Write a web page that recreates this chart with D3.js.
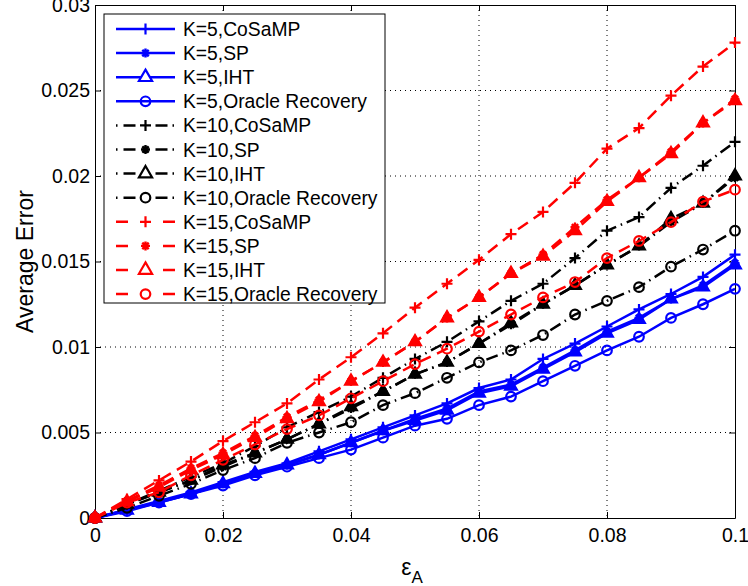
<!DOCTYPE html>
<html>
<head>
<meta charset="utf-8">
<script src="https://cdn.jsdelivr.net/npm/d3@7"></script>
<style>
  body { margin: 0; background: #fff; }
  svg { font-family: "Liberation Sans", Arial, sans-serif; }
</style>
</head>
<body>
<svg></svg>
<script>
// x values (epsilon_A)
let epsValues = [0, 0.005, 0.01, 0.015, 0.02, 0.025, 0.03, 0.035, 0.04, 0.045, 0.05,
                 0.055, 0.06, 0.065, 0.07, 0.075, 0.08, 0.085, 0.09, 0.095, 0.1];

let k5CoSaMP  = [0, 0.0005, 0.0010, 0.0015, 0.0021, 0.0027, 0.0032, 0.0039, 0.0046, 0.0053, 0.0060, 0.0067, 0.0076, 0.0081, 0.0093, 0.0102, 0.0112, 0.0122, 0.0131, 0.0141, 0.0154];
let k5SP      = [0, 0.00047, 0.00095, 0.0014, 0.0020, 0.0026, 0.0031, 0.0037, 0.0044, 0.0051, 0.0058, 0.0064, 0.0074, 0.0078, 0.0088, 0.0098, 0.0109, 0.0117, 0.0128, 0.0136, 0.0149];
let k5IHT     = [0, 0.00045, 0.0009, 0.0014, 0.0020, 0.0026, 0.0031, 0.0037, 0.0044, 0.0051, 0.0057, 0.0063, 0.0073, 0.0077, 0.0087, 0.0097, 0.0108, 0.0116, 0.0128, 0.0135, 0.0148];
let k5Oracle  = [0, 0.0004, 0.0009, 0.0014, 0.0019, 0.0025, 0.0030, 0.0035, 0.0040, 0.0047, 0.0054, 0.0058, 0.0066, 0.0071, 0.0080, 0.0089, 0.0098, 0.0106, 0.0117, 0.0125, 0.0134];

let k10CoSaMP = [0, 0.0008, 0.0016, 0.0024, 0.0032, 0.0042, 0.0053, 0.0062, 0.0071, 0.0082, 0.0093, 0.0103, 0.0115, 0.0127, 0.0137, 0.0152, 0.0168, 0.0176, 0.0193, 0.0206, 0.0220];
let k10SP     = [0, 0.0008, 0.0015, 0.0022, 0.0030, 0.0038, 0.0046, 0.0055, 0.0064, 0.0074, 0.0084, 0.0091, 0.0102, 0.0113, 0.0125, 0.0136, 0.0148, 0.0159, 0.0173, 0.0184, 0.0199];
let k10IHT    = [0, 0.0008, 0.0015, 0.0022, 0.0031, 0.0038, 0.0046, 0.0055, 0.0065, 0.0074, 0.0084, 0.0091, 0.0102, 0.0114, 0.0125, 0.0136, 0.0148, 0.0159, 0.0175, 0.0184, 0.0200];
let k10Oracle = [0, 0.0006, 0.0013, 0.0020, 0.0028, 0.0035, 0.0044, 0.0050, 0.0056, 0.0066, 0.0073, 0.0082, 0.0091, 0.0098, 0.0107, 0.0119, 0.0127, 0.0135, 0.0147, 0.0157, 0.0168];

let k15CoSaMP = [0, 0.0011, 0.0022, 0.0033, 0.0045, 0.0056, 0.0067, 0.0081, 0.0094, 0.0108, 0.0123, 0.0137, 0.0151, 0.0166, 0.0179, 0.0196, 0.0216, 0.0228, 0.0247, 0.0264, 0.0278];
let k15SP     = [0, 0.0010, 0.0019, 0.0029, 0.0038, 0.0048, 0.0059, 0.0069, 0.0080, 0.0091, 0.0103, 0.0117, 0.0129, 0.0143, 0.0154, 0.0170, 0.0186, 0.0199, 0.0214, 0.0231, 0.0245];
let k15IHT    = [0, 0.00095, 0.0018, 0.0028, 0.0037, 0.0047, 0.0058, 0.0068, 0.0080, 0.0091, 0.0103, 0.0117, 0.0129, 0.0143, 0.0153, 0.0168, 0.0185, 0.0199, 0.0213, 0.0231, 0.0244];
let k15Oracle = [0, 0.0009, 0.0015, 0.0025, 0.0034, 0.0043, 0.0052, 0.0060, 0.0070, 0.0080, 0.0090, 0.0099, 0.0109, 0.0119, 0.0129, 0.0138, 0.0152, 0.0162, 0.0173, 0.0185, 0.0192];

let seriesNames = ["K=5,CoSaMP", "K=5,SP", "K=5,IHT", "K=5,Oracle Recovery",
                   "K=10,CoSaMP", "K=10,SP", "K=10,IHT", "K=10,Oracle Recovery",
                   "K=15,CoSaMP", "K=15,SP", "K=15,IHT", "K=15,Oracle Recovery"];
let seriesValues = [k5CoSaMP, k5SP, k5IHT, k5Oracle,
                    k10CoSaMP, k10SP, k10IHT, k10Oracle,
                    k15CoSaMP, k15SP, k15IHT, k15Oracle];

let xTicks = [0, 0.02, 0.04, 0.06, 0.08, 0.1];
let yTicks = [0, 0.005, 0.01, 0.015, 0.02, 0.025, 0.03];

let width = 748;
let height = 586;
let plotLeft = 95, plotRight = 735, plotTop = 5, plotBottom = 518;

let colors = ["#0000ff", "#000000", "#ff0000"];   // K=5, K=10, K=15
let dashes = [null, "12,5,1.5,5", "12,7"];
let legendDashes = [null, "1.5,6,12,20,12,5,1.5", "12,35,12"];
let markers = ["plus", "star", "triangle", "circle"];

let svg = d3.select("svg").attr("width", width).attr("height", height);

let xScale = d3.scaleLinear().domain([0, 0.1]).range([plotLeft, plotRight]);
let yScale = d3.scaleLinear().domain([0, 0.03]).range([plotBottom, plotTop]);

let markerPath = (type, big) => {
    if (type === "plus") return "M-5.5,0H5.5M0,-5.5V5.5";
    if (type === "star") return "M-4.5,0H4.5M0,-4.5V4.5M-3.2,-3.2L3.2,3.2M-3.2,3.2L3.2,-3.2";
    if (type === "triangle") return d3.symbol(d3.symbolTriangle, big ? 75 : 72)();
    return d3.symbol(d3.symbolCircle, 72)();
};

let drawMarker = (g, type, color, legend) => {
    let p = g.append("path").attr("d", markerPath(type, legend))
        .attr("stroke", color).attr("stroke-width", 2);
    if (type === "triangle") {
        p.attr("fill", legend ? "#fff" : color).attr("stroke-width", legend ? 2.2 : 1.5);
    } else if (type === "star") {
        p.attr("fill", "none").attr("stroke-width", 2.4);
    } else {
        p.attr("fill", "none").attr("stroke-width", 2.2);
    }
    return p;
};

// grid
let grid = svg.append("g").attr("stroke", "#000").attr("stroke-width", 1)
    .attr("stroke-dasharray", "1,4");
grid.selectAll(".gx").data(xTicks.slice(1, -1)).enter().append("line")
    .attr("x1", d => xScale(d)).attr("x2", d => xScale(d))
    .attr("y1", plotTop).attr("y2", plotBottom);
grid.selectAll(".gy").data(yTicks.slice(1, -1)).enter().append("line")
    .attr("y1", d => yScale(d)).attr("y2", d => yScale(d))
    .attr("x1", plotLeft).attr("x2", plotRight);

// axes, ticks point inwards like matlab
let styleAxis = (g) => {
    g.selectAll(".domain").attr("stroke", "#000").attr("stroke-width", 1);
    g.selectAll(".tick line").attr("stroke", "#000");
    g.selectAll("text").attr("font-size", "19.5px").attr("fill", "#000")
        .attr("font-family", "'Liberation Sans', Arial, sans-serif");
};

svg.append("g").attr("transform", "translate(0," + plotBottom + ")")
    .call(d3.axisBottom(xScale).tickValues(xTicks).tickFormat(d3.format("~g"))
          .tickSizeInner(-6).tickSizeOuter(0).tickPadding(10))
    .call(styleAxis);
svg.append("g").attr("transform", "translate(0," + plotTop + ")")
    .call(d3.axisTop(xScale).tickValues(xTicks).tickFormat("")
          .tickSizeInner(-6).tickSizeOuter(0))
    .call(styleAxis);
svg.append("g").attr("transform", "translate(" + plotLeft + ",0)")
    .call(d3.axisLeft(yScale).tickValues(yTicks).tickFormat(d3.format("~g"))
          .tickSizeInner(-6).tickSizeOuter(0).tickPadding(5))
    .call(styleAxis);
svg.append("g").attr("transform", "translate(" + plotRight + ",0)")
    .call(d3.axisRight(yScale).tickValues(yTicks).tickFormat("")
          .tickSizeInner(-6).tickSizeOuter(0))
    .call(styleAxis);

// series
let line = d3.line().x((d, i) => xScale(epsValues[i])).y(d => yScale(d));

seriesValues.forEach((vals, s) => {
    let group = Math.floor(s / 4);
    let color = colors[group];
    let g = svg.append("g");
    g.append("path").attr("d", line(vals))
        .attr("fill", "none").attr("stroke", color).attr("stroke-width", 2.5)
        .attr("stroke-dasharray", dashes[group]);
    vals.forEach((v, i) => {
        let m = g.append("g")
            .attr("transform", "translate(" + xScale(epsValues[i]) + "," + yScale(v) + ")");
        drawMarker(m, markers[s % 4], color, false);
    });
});

// legend
let legend = svg.append("g");
legend.append("rect").attr("x", 104).attr("y", 14).attr("width", 281).attr("height", 289)
    .attr("fill", "#fff").attr("stroke", "#000").attr("stroke-width", 1);

seriesNames.forEach((name, s) => {
    let group = Math.floor(s / 4);
    let color = colors[group];
    let ly = 29 + s * 24.1;
    let row = legend.append("g").attr("transform", "translate(0," + ly + ")");
    row.append("line").attr("x1", 116).attr("x2", 175).attr("y1", 0).attr("y2", 0)
        .attr("stroke", color).attr("stroke-width", 2.5)
        .attr("stroke-dasharray", legendDashes[group]);
    let m = row.append("g").attr("transform", "translate(145.5,0)");
    drawMarker(m, markers[s % 4], color, true);
    row.append("text").attr("x", 183).attr("y", 7)
        .attr("font-size", "19.3px").attr("fill", "#000").text(name);
});

// axis labels
svg.append("text")
    .attr("transform", "translate(33," + ((plotTop + plotBottom) / 2) + ") rotate(-90)")
    .attr("text-anchor", "middle").attr("font-size", "23px").text("Average Error");

let xl = svg.append("text").attr("x", 412).attr("y", 575)
    .attr("text-anchor", "middle").attr("font-size", "23px");
xl.append("tspan").text("ε");
xl.append("tspan").attr("font-size", "17px").attr("dy", 8).text("A");
</script>
</body>
</html>
